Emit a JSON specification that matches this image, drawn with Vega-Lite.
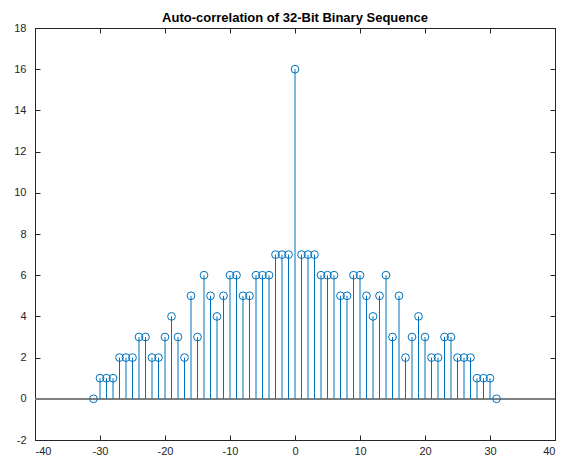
{
  "$schema": "https://vega.github.io/schema/vega-lite/v6.json",
  "width": 520,
  "height": 412,
  "autosize": {"type": "none"},
  "padding": {"left": 35, "top": 28, "right": 9, "bottom": 19},
  "background": "white",
  "title": {"text": "Auto-correlation of 32-Bit Binary Sequence", "font": "Liberation Sans", "fontSize": 13, "fontWeight": "bold", "color": "#000000", "offset": -3},
  "config": {
    "view": {"stroke": "#262626", "strokeWidth": 1},
    "axis": {"grid": false, "domainColor": "#262626", "tickColor": "#262626", "labelColor": "#262626", "labelFont": "Liberation Sans", "labelFontSize": 11, "tickSize": -5, "title": null, "labelExpr": "datum.value < 0 ? '-' + abs(datum.value) : '' + datum.value"}
  },
  "data": {"values": [
    {"lag": -31, "r": 0}, {"lag": -30, "r": 1}, {"lag": -29, "r": 1}, {"lag": -28, "r": 1},
    {"lag": -27, "r": 2}, {"lag": -26, "r": 2}, {"lag": -25, "r": 2}, {"lag": -24, "r": 3},
    {"lag": -23, "r": 3}, {"lag": -22, "r": 2}, {"lag": -21, "r": 2}, {"lag": -20, "r": 3},
    {"lag": -19, "r": 4}, {"lag": -18, "r": 3}, {"lag": -17, "r": 2}, {"lag": -16, "r": 5},
    {"lag": -15, "r": 3}, {"lag": -14, "r": 6}, {"lag": -13, "r": 5}, {"lag": -12, "r": 4},
    {"lag": -11, "r": 5}, {"lag": -10, "r": 6}, {"lag": -9, "r": 6}, {"lag": -8, "r": 5},
    {"lag": -7, "r": 5}, {"lag": -6, "r": 6}, {"lag": -5, "r": 6}, {"lag": -4, "r": 6},
    {"lag": -3, "r": 7}, {"lag": -2, "r": 7}, {"lag": -1, "r": 7}, {"lag": 0, "r": 16},
    {"lag": 1, "r": 7}, {"lag": 2, "r": 7}, {"lag": 3, "r": 7}, {"lag": 4, "r": 6},
    {"lag": 5, "r": 6}, {"lag": 6, "r": 6}, {"lag": 7, "r": 5}, {"lag": 8, "r": 5},
    {"lag": 9, "r": 6}, {"lag": 10, "r": 6}, {"lag": 11, "r": 5}, {"lag": 12, "r": 4},
    {"lag": 13, "r": 5}, {"lag": 14, "r": 6}, {"lag": 15, "r": 3}, {"lag": 16, "r": 5},
    {"lag": 17, "r": 2}, {"lag": 18, "r": 3}, {"lag": 19, "r": 4}, {"lag": 20, "r": 3},
    {"lag": 21, "r": 2}, {"lag": 22, "r": 2}, {"lag": 23, "r": 3}, {"lag": 24, "r": 3},
    {"lag": 25, "r": 2}, {"lag": 26, "r": 2}, {"lag": 27, "r": 2}, {"lag": 28, "r": 1},
    {"lag": 29, "r": 1}, {"lag": 30, "r": 1}, {"lag": 31, "r": 0}
  ]},
  "resolve": {"axis": {"x": "independent", "y": "independent"}},
  "layer": [
    {
      "mark": {"type": "rule", "color": "#808080", "strokeWidth": 1},
      "encoding": {
        "y": {"datum": 0, "type": "quantitative", "scale": {"domain": [-2, 18], "nice": false}, "axis": {"orient": "left", "values": [-2, 0, 2, 4, 6, 8, 10, 12, 14, 16, 18], "labelPadding": 14}}
      }
    },
    {
      "mark": {"type": "rule", "color": "#0072BD", "strokeWidth": 1},
      "encoding": {
        "x": {"field": "lag", "type": "quantitative", "scale": {"domain": [-40, 40], "nice": false}, "axis": {"orient": "bottom", "values": [-40, -30, -20, -10, 0, 10, 20, 30, 40], "labelPadding": 10}},
        "y": {"field": "r", "type": "quantitative", "axis": {"orient": "right", "labels": false, "values": [-2, 0, 2, 4, 6, 8, 10, 12, 14, 16, 18]}},
        "y2": {"datum": 0}
      }
    },
    {
      "mark": {"type": "point", "shape": "circle", "filled": false, "color": "#0072BD", "size": 60, "strokeWidth": 1, "opacity": 1},
      "encoding": {
        "x": {"field": "lag", "type": "quantitative", "axis": {"orient": "top", "labels": false, "values": [-40, -30, -20, -10, 0, 10, 20, 30, 40]}},
        "y": {"field": "r", "type": "quantitative", "axis": null}
      }
    }
  ]
}
